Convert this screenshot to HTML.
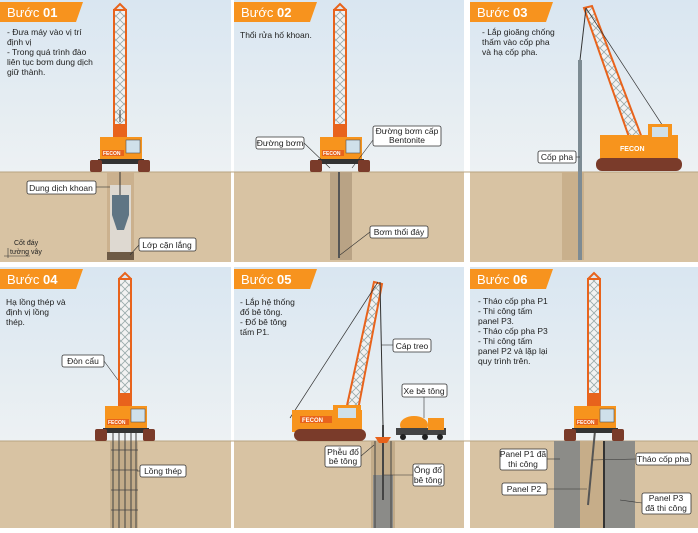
<!DOCTYPE html>
<html><head><meta charset="utf-8"><style>
body{margin:0;width:698px;height:528px;overflow:hidden;background:#fff;font-family:"Liberation Sans",sans-serif}
svg text{font-family:"Liberation Sans",sans-serif}
</style></head><body>
<svg width="698" height="528" viewBox="0 0 698 528" xmlns="http://www.w3.org/2000/svg">
<defs>
<linearGradient id="sky" x1="0" y1="0" x2="0" y2="1"><stop offset="0" stop-color="#d9e6f1"/><stop offset="1" stop-color="#edf1f3"/></linearGradient>
<pattern id="lat" width="8" height="8" patternUnits="userSpaceOnUse"><rect width="8" height="8" fill="#f2f2f2"/><path d="M0 0L8 8M8 0L0 8" stroke="#9aa" stroke-width="0.8"/></pattern>
<g id="crane">
  <rect x="-6" y="-162" width="12" height="122" fill="url(#lat)" stroke="#e8631c" stroke-width="2"/>
  <path d="M-6 -162L0 -168L6 -162" fill="none" stroke="#e8631c" stroke-width="2"/>
  <rect x="-7" y="-48" width="14" height="20" fill="#e8631c"/>
  <rect x="-20" y="-35" width="42" height="22" fill="#f7941d"/>
  <rect x="6" y="-32" width="14" height="13" fill="#cfe0ea" stroke="#555" stroke-width="0.6"/>
  <rect x="-18" y="-22" width="22" height="6" fill="#e8631c"/>
  <text x="-17" y="-17" font-size="5" fill="#fff" font-weight="bold">FECON</text>
  <rect x="-22" y="-13" width="46" height="5" fill="#333"/>
  <rect x="-30" y="-12" width="12" height="12" rx="2" fill="#7a3b2a"/>
  <rect x="18" y="-12" width="12" height="12" rx="2" fill="#7a3b2a"/>
</g>
<g id="tab"><path d="M0 0H83L76 20H0Z" fill="#f7931e"/></g>
</defs>
<g font-size="8.5" fill="#222">
<!-- panels -->
<rect x="0" y="0" width="231" height="172" fill="url(#sky)"/><rect x="0" y="172" width="231" height="90" fill="#d8c3a3"/>
<rect x="234" y="0" width="230" height="172" fill="url(#sky)"/><rect x="234" y="172" width="230" height="90" fill="#d8c3a3"/>
<rect x="470" y="0" width="228" height="172" fill="url(#sky)"/><rect x="470" y="172" width="228" height="90" fill="#d8c3a3"/>
<rect x="0" y="267" width="231" height="174" fill="url(#sky)"/><rect x="0" y="441" width="231" height="87" fill="#d8c3a3"/>
<rect x="234" y="267" width="230" height="174" fill="url(#sky)"/><rect x="234" y="441" width="230" height="87" fill="#d8c3a3"/>
<rect x="470" y="267" width="228" height="174" fill="url(#sky)"/><rect x="470" y="441" width="228" height="87" fill="#d8c3a3"/>
<line x1="0" y1="172" x2="698" y2="172" stroke="#b9a482"/><line x1="0" y1="441" x2="698" y2="441" stroke="#b9a482"/>
<!-- tabs -->
<use href="#tab" x="0" y="2"/><use href="#tab" x="234" y="2"/><use href="#tab" x="470" y="2"/>
<use href="#tab" x="0" y="269"/><use href="#tab" x="234" y="269"/><use href="#tab" x="470" y="269"/>
<g fill="#fff" font-size="13"><text x="7" y="17">Bước <tspan font-weight="bold">01</tspan></text><text x="241" y="17">Bước <tspan font-weight="bold">02</tspan></text><text x="477" y="17">Bước <tspan font-weight="bold">03</tspan></text>
<text x="7" y="284">Bước <tspan font-weight="bold">04</tspan></text><text x="241" y="284">Bước <tspan font-weight="bold">05</tspan></text><text x="477" y="284">Bước <tspan font-weight="bold">06</tspan></text></g>
<!-- trenches -->
<rect x="107" y="172" width="27" height="88" fill="#cbb18e"/><rect x="110" y="185" width="21" height="70" fill="#e6eaee" opacity="0.7"/>
<path d="M112 195h17v20l-5 15h-7l-5-15z" fill="#5f7584"/><rect x="107" y="252" width="27" height="8" fill="#6d5a45"/>
<line x1="120" y1="172" x2="120" y2="195" stroke="#333"/>
<rect x="330" y="172" width="22" height="88" fill="#b9a385"/><line x1="339" y1="172" x2="339" y2="258" stroke="#555" stroke-width="2"/>
<rect x="562" y="172" width="22" height="88" fill="#c9b08c"/><rect x="578" y="60" width="4" height="200" fill="#7d8b93"/>
<rect x="110" y="441" width="28" height="87" fill="#c2ab89"/>
<g stroke="#444" stroke-width="1"><line x1="113" y1="420" x2="113" y2="528"/><line x1="119" y1="420" x2="119" y2="528"/><line x1="125" y1="420" x2="125" y2="528"/><line x1="131" y1="420" x2="131" y2="528"/><line x1="136" y1="420" x2="136" y2="528"/></g>
<g stroke="#444" stroke-width="0.7"><line x1="111" y1="430" x2="138" y2="430"/><line x1="111" y1="450" x2="138" y2="450"/><line x1="111" y1="470" x2="138" y2="470"/><line x1="111" y1="490" x2="138" y2="490"/><line x1="111" y1="510" x2="138" y2="510"/></g>
<rect x="371" y="441" width="24" height="87" fill="#c2ab89"/><rect x="373" y="475" width="20" height="53" fill="#8b8b88"/>
<g stroke="#444"><line x1="375" y1="441" x2="375" y2="528"/><line x1="391" y1="441" x2="391" y2="528"/><line x1="383" y1="425" x2="383" y2="500" stroke-width="2"/></g>
<path d="M375 437h16l-4 6h-8z" fill="#e8631c"/>
<rect x="554" y="441" width="26" height="87" fill="#8c8c88"/><rect x="605" y="441" width="30" height="87" fill="#8c8c88"/><rect x="580" y="441" width="25" height="87" fill="#c6ad89"/>
<line x1="604" y1="441" x2="604" y2="528" stroke="#333" stroke-width="2"/><line x1="596" y1="420" x2="588" y2="505" stroke="#555" stroke-width="2"/>
<!-- cranes -->
<use href="#crane" x="120" y="172"/><use href="#crane" x="340" y="172"/><use href="#crane" x="125" y="441"/><use href="#crane" x="594" y="441"/>
<line x1="120" y1="122" x2="120" y2="110" stroke="#333"/>
<!-- inclined crane 3 -->
<g>
<path d="M630 140L584 8L592 6L642 138Z" fill="url(#lat)" stroke="#e8631c" stroke-width="2"/>
<line x1="586" y1="8" x2="672" y2="140" stroke="#333" stroke-width="0.7"/><line x1="586" y1="8" x2="580" y2="60" stroke="#333"/>
<rect x="600" y="135" width="78" height="24" fill="#f7941d"/><rect x="648" y="124" width="24" height="16" fill="#f7941d"/><rect x="652" y="127" width="16" height="10" fill="#cfe0ea"/>
<text x="620" y="151" font-size="7" fill="#fff" font-weight="bold">FECON</text>
<rect x="596" y="158" width="86" height="13" rx="6" fill="#7a3b2a"/>
</g>
<!-- inclined crane 5 -->
<g>
<path d="M346 410L374 282L382 284L358 410Z" fill="url(#lat)" stroke="#e8631c" stroke-width="2"/>
<line x1="378" y1="282" x2="290" y2="418" stroke="#333" stroke-width="0.7"/><line x1="380" y1="282" x2="383" y2="425" stroke="#333"/>
<rect x="292" y="410" width="70" height="22" fill="#f7941d"/><rect x="333" y="405" width="28" height="16" fill="#f7941d"/><rect x="338" y="408" width="18" height="10" fill="#cfe0ea"/>
<rect x="300" y="416" width="32" height="7" fill="#e8631c"/><text x="302" y="422" font-size="6" fill="#fff" font-weight="bold">FECON</text>
<rect x="294" y="429" width="72" height="12" rx="6" fill="#7a3b2a"/>
<ellipse cx="414" cy="425" rx="14" ry="9" fill="#f7941d"/><rect x="396" y="428" width="50" height="7" fill="#444"/><rect x="428" y="418" width="16" height="12" fill="#f7941d"/>
<circle cx="403" cy="437" r="3" fill="#222"/><circle cx="425" cy="437" r="3" fill="#222"/><circle cx="440" cy="437" r="3" fill="#222"/>
</g>
<!-- descriptions -->
<text x="7" y="35">- Đưa máy vào vị trí</text><text x="7" y="45">định vị</text><text x="7" y="55">-  Trong quá trình đào</text><text x="7" y="65">liên tục bơm dung dịch</text><text x="7" y="75">giữ thành.</text>
<text x="240" y="38">Thổi rửa hố khoan.</text>
<text x="482" y="35">- Lắp gioăng chống</text><text x="482" y="45">thấm vào cốp pha</text><text x="482" y="55">và hạ cốp pha.</text>
<text x="6" y="305">Hạ lồng thép và</text><text x="6" y="315">định vị lồng</text><text x="6" y="325">thép.</text>
<text x="240" y="305">- Lắp hệ thống</text><text x="240" y="315">đổ bê tông.</text><text x="240" y="325">- Đổ bê tông</text><text x="240" y="335">tấm P1.</text>
<text x="478" y="304">- Tháo cốp pha P1</text><text x="478" y="314">- Thi công tấm</text><text x="478" y="324">panel P3.</text><text x="478" y="334">- Tháo cốp pha P3</text><text x="478" y="344">- Thi công tấm</text><text x="478" y="354">panel P2 và lặp lại</text><text x="478" y="364">quy trình trên.</text>
<text x="14" y="245" font-size="7">Cốt đáy</text><text x="10" y="254" font-size="7">tường vây</text><line x1="4" y1="256" x2="30" y2="256" stroke="#333" stroke-width="0.6"/><line x1="8" y1="248" x2="8" y2="258" stroke="#333" stroke-width="0.6"/>
<!-- labels -->
<g fill="#fff" stroke="#333" stroke-width="0.8">
<rect x="27" y="181" width="69" height="13" rx="2"/><rect x="139" y="238" width="57" height="13" rx="2"/>
<rect x="256" y="137" width="48" height="12" rx="2"/><rect x="373" y="126" width="68" height="20" rx="2"/><rect x="370" y="226" width="58" height="12" rx="2"/>
<rect x="538" y="151" width="38" height="12" rx="2"/>
<rect x="62" y="355" width="42" height="12" rx="2"/><rect x="140" y="465" width="46" height="12" rx="2"/>
<rect x="393" y="339" width="38" height="13" rx="2"/><rect x="402" y="384" width="45" height="13" rx="2"/><rect x="325" y="446" width="36" height="21" rx="2"/><rect x="413" y="464" width="31" height="22" rx="2"/>
<rect x="500" y="449" width="47" height="21" rx="2"/><rect x="636" y="453" width="55" height="12" rx="2"/><rect x="502" y="483" width="45" height="12" rx="2"/><rect x="642" y="493" width="49" height="21" rx="2"/>
</g>
<g stroke="#333" stroke-width="0.6"><line x1="96" y1="187" x2="110" y2="187"/><line x1="139" y1="245" x2="130" y2="255"/><line x1="304" y1="143" x2="330" y2="168"/><line x1="373" y1="140" x2="352" y2="168"/><line x1="370" y1="232" x2="340" y2="255"/><line x1="576" y1="157" x2="580" y2="157"/><line x1="104" y1="361" x2="118" y2="380"/><line x1="140" y1="471" x2="137" y2="471"/><line x1="393" y1="345" x2="381" y2="345"/><line x1="424" y1="397" x2="424" y2="418"/><line x1="361" y1="456" x2="374" y2="445"/><line x1="413" y1="475" x2="384" y2="475"/><line x1="547" y1="459" x2="560" y2="459"/><line x1="636" y1="459" x2="592" y2="460"/><line x1="547" y1="489" x2="587" y2="489"/><line x1="642" y1="503" x2="620" y2="500"/></g>
<g font-size="8.5" text-anchor="middle">
<text x="61" y="191">Dung dịch khoan</text><text x="167" y="248">Lớp cặn lắng</text>
<text x="280" y="146">Đường bơm</text><text x="407" y="134">Đường bơm cấp</text><text x="407" y="143">Bentonite</text><text x="399" y="235">Bơm thổi đáy</text>
<text x="557" y="160">Cốp pha</text>
<text x="83" y="364">Đòn cẩu</text><text x="163" y="474">Lồng thép</text>
<text x="412" y="349">Cáp treo</text><text x="424" y="394">Xe bê tông</text><text x="343" y="455">Phễu đổ</text><text x="343" y="464">bê tông</text><text x="428" y="473">Ống đổ</text><text x="428" y="483">bê tông</text>
<text x="523" y="457">Panel P1 đã</text><text x="523" y="467">thi công</text><text x="663" y="462">Tháo cốp pha</text><text x="524" y="492">Panel P2</text><text x="666" y="501">Panel P3</text><text x="666" y="511">đã thi công</text>
</g>
</g>
</svg>
</body></html>
